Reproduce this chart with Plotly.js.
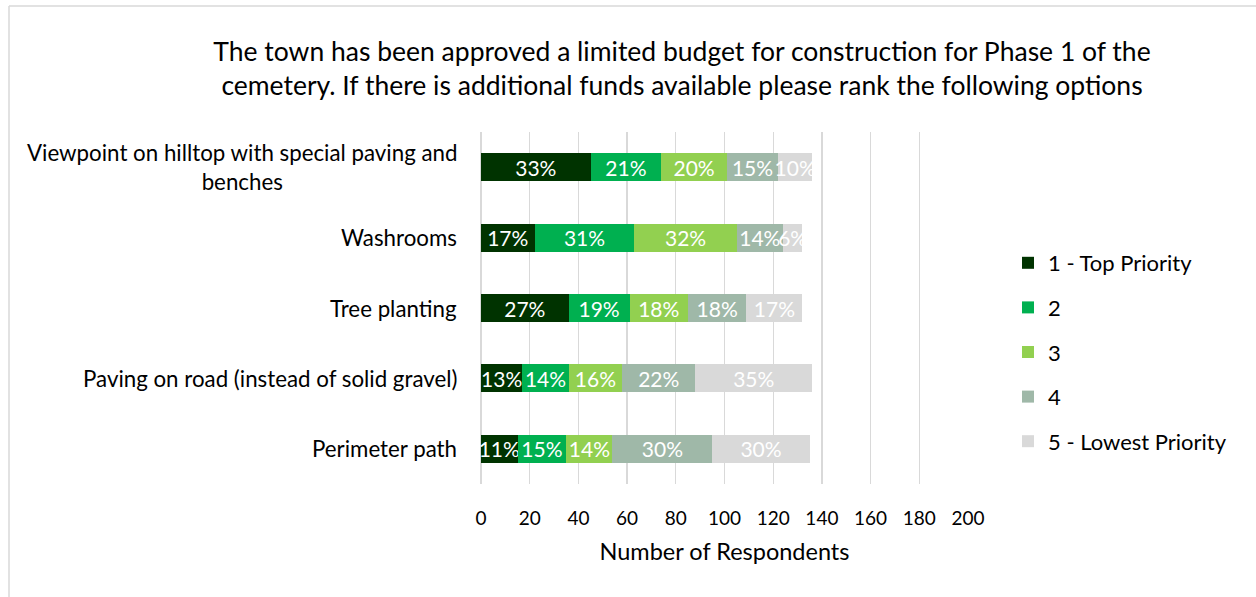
<!DOCTYPE html>
<html>
<head>
<meta charset="utf-8">
<script src="https://cdn.plot.ly/plotly-3.0.1.min.js"></script>
<style>
html,body{margin:0;padding:0;background:#fff;}
#chart{width:1256px;height:597px;}
</style>
</head>
<body>
<div id="chart"></div>
<script>
// ---- data ----
const categories = [
  'Viewpoint on hilltop with special paving and benches',
  'Washrooms',
  'Tree planting',
  'Paving on road (instead of solid gravel)',
  'Perimeter path'
];
const categoryLabels = [
  'Viewpoint on hilltop with special paving and<br>benches',
  'Washrooms',
  'Tree planting',
  'Paving on road (instead of solid gravel)',
  'Perimeter path'
];
const seriesNames = ['1 - Top Priority', '2', '3', '4', '5 - Lowest Priority'];
const rank1 = [45, 22, 36, 17, 15];
const rank2 = [29, 41, 25, 19, 20];
const rank3 = [27, 42, 24, 22, 19];
const rank4 = [21, 19, 24, 30, 41];
const rank5 = [14, 8, 23, 48, 40];
const xTickVals = [0, 20, 40, 60, 80, 100, 120, 140, 160, 180, 200];
const titleText = 'The town has been approved a limited budget for construction for Phase 1 of the<br>cemetery. If there is additional funds available please rank the following options';
const xTitle = 'Number of Respondents';

// ---- styles ----
const colors = ['#003300', '#00b050', '#92d050', '#9fb8a8', '#d9d9d9'];
const FONT = 'Lato, "Open Sans", sans-serif';

const series = [rank1, rank2, rank3, rank4, rank5];
const totals = categories.map((c, i) => series.reduce((s, arr) => s + arr[i], 0));

const traces = series.map((vals, k) => ({
  type: 'bar',
  orientation: 'h',
  name: seriesNames[k],
  legendgroup: 'g' + k,
  y: categories,
  x: vals,
  marker: {color: colors[k], line: {width: 0}},
  text: vals.map((v, i) => Math.round(v / totals[i] * 100) + '%'),
  textposition: 'inside',
  insidetextanchor: 'middle',
  textangle: 0,
  constraintext: 'none',
  cliponaxis: false,
  textfont: {family: FONT, size: 21, color: '#ffffff'},
  hoverinfo: 'x+name'
}));

const ML = 481, MR = 1256 - 968, MT = 132, MB = 597 - 484;
const PW = 1256 - ML - MR, PH = 597 - MT - MB;

const annotations = categories.map((c, i) => ({
  xref: 'paper', yref: 'y',
  x: -22 / PW, y: c,
  xanchor: 'right', yanchor: 'middle',
  align: 'center',
  text: categoryLabels[i],
  showarrow: false,
  font: {family: FONT, size: 22.3, color: '#000000'}
}));

const layout = {
  width: 1256, height: 597,
  margin: {l: ML, r: MR, t: MT, b: MB, pad: 0},
  paper_bgcolor: '#ffffff',
  plot_bgcolor: '#ffffff',
  barmode: 'stack',
  bargap: 0.6,
  font: {family: FONT, color: '#000000'},
  title: {
    text: titleText,
    font: {family: FONT, size: 26.5, color: '#000000'},
    x: 682 / 1256, xanchor: 'center', xref: 'container',
    y: 1 - 61 / 597, yanchor: 'top', yref: 'container'
  },
  xaxis: {
    range: [0, 200],
    tickvals: xTickVals,
    ticktext: xTickVals.map(String),
    showgrid: true,
    gridcolor: '#d9d9d9',
    gridwidth: 1.3,
    zeroline: true,
    zerolinecolor: '#d9d9d9',
    zerolinewidth: 1.3,
    showline: false,
    ticks: 'outside',
    ticklen: 17,
    tickcolor: 'rgba(0,0,0,0)',
    tickfont: {family: FONT, size: 19, color: '#000000'},
    title: {text: xTitle, font: {family: FONT, size: 23.5, color: '#000000'}, standoff: 15},
    automargin: false,
    fixedrange: true
  },
  yaxis: {
    categoryorder: 'array',
    categoryarray: categories,
    autorange: 'reversed',
    showticklabels: false,
    showgrid: false,
    zeroline: false,
    showline: false,
    ticks: '',
    automargin: false,
    fixedrange: true
  },
  legend: {
    x: (1008 - ML) / PW, xanchor: 'left',
    y: (484 - 242) / PH, yanchor: 'top',
    traceorder: 'grouped',
    tracegroupgap: 13,
    font: {family: FONT, size: 22, color: '#000000'},
    bgcolor: 'rgba(0,0,0,0)'
  },
  annotations: annotations,
  shapes: [
    {type: 'line', xref: 'paper', yref: 'paper',
     x0: (9 - ML) / PW, x1: (9 - ML) / PW, y0: (597 - 6 - MB) / PH, y1: (-10 - MB) / PH,
     line: {color: '#d9d9d9', width: 1.5}},
    {type: 'line', xref: 'paper', yref: 'paper',
     x0: (9 - ML) / PW, x1: (1270 - ML) / PW, y0: (597 - 6 - MB) / PH, y1: (597 - 6 - MB) / PH,
     line: {color: '#d9d9d9', width: 1.5}}
  ]
};

Plotly.newPlot('chart', traces, layout, {displayModeBar: false, staticPlot: true});
</script>
</body>
</html>
